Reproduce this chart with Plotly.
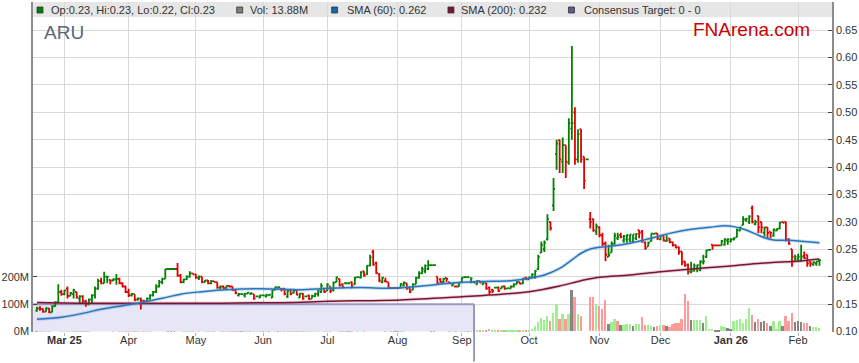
import pandas as pd
import plotly.graph_objects as go

# ---------------- data ----------------
START_DATE = "2025-02-18"

OPEN = [
    .138, .142, .141, .136, .142, .135, .146, .153, .172, .168,
    .178, .165, .168, .172, .160, .164, .155, .150, .158, .166,
    .178, .192, .188, .200, .194, .193, .195, .196, .188, .182,
    .172, .166, .168, .158, .160, .156, .155, .160, .166, .172,
    .182, .190, .196, .214, .214, .214, .214, .202, .190, .195,
    .200, .206, .204, .198, .200, .190, .193, .188, .192, .190,
    .180, .182, .179, .183, .182, .176, .166, .168, .166, .169,
    .168, .168, .164, .162, .166, .164, .166, .162, .176, .180,
    .178, .178, .164, .176, .171, .175, .162, .169, .164, .166,
    .160, .164, .168, .172, .178, .174, .182, .176, .190, .196,
    .186, .188, .188, .190, .186, .199, .198, .210, .204, .220,
    .245, .225, .205, .190, .192, .190, .179, .179, .179, .180,
    .184, .188, .180, .176, .186, .198, .206, .210, .214, .221,
    .221, .200, .195, .190, .198, .190, .184, .182, .182, .190,
    .199, .199, .190, .190, .186, .192, .186, .188, .180, .176,
    .180, .180, .178, .182, .178, .178, .182, .186, .190, .188,
    .198, .195, .198, .200, .214, .244, .250, .268, .300, .330,
    .424, .449, .410, .440, .408, .470, .500, .414, .469, .419,
    .414, .305, .305, .282, .290, .275, .260, .236, .244, .260,
    .270, .276, .266, .268, .268, .264, .270, .285, .282, .262,
    .255, .265, .278, .279, .268, .275, .265, .270, .263, .258,
    .254, .246, .228, .222, .208, .212, .214, .212, .226, .236,
    .249, .2585, .257, .257, .257, .258, .266, .264, .268, .272,
    .284, .294, .303, .300, .325, .296, .311, .300, .280, .290,
    .282, .275, .284, .288, .300, .300, .268, .250, .228, .232,
    .230, .238, .240, .228, .222, .224, .229,
]
HIGH = [
    .145, .146, .142, .144, .143, .148, .155, .186, .176, .176,
    .182, .172, .178, .172, .166, .166, .158, .160, .168, .182,
    .196, .198, .209, .200, .194, .197, .205, .198, .190, .184,
    .178, .170, .168, .162, .162, .158, .162, .168, .174, .186,
    .194, .198, .214, .214, .214, .214, .225, .205, .196, .202,
    .210, .206, .205, .202, .200, .194, .194, .194, .192, .190,
    .184, .184, .184, .184, .182, .176, .170, .168, .170, .172,
    .171, .168, .165, .167, .166, .168, .168, .176, .182, .182,
    .179, .179, .176, .178, .178, .175, .170, .170, .165, .167,
    .167, .170, .176, .188, .179, .188, .182, .191, .200, .196,
    .188, .188, .188, .191, .200, .200, .210, .210, .221, .240,
    .249, .227, .206, .200, .198, .190, .179, .179, .179, .188,
    .191, .188, .182, .188, .200, .210, .218, .222, .230, .221,
    .221, .200, .197, .198, .198, .190, .188, .183, .190, .199,
    .199, .199, .199, .190, .194, .192, .192, .189, .182, .178,
    .180, .182, .182, .184, .180, .184, .188, .192, .190, .198,
    .200, .200, .206, .212, .240, .264, .266, .314, .300, .380,
    .450, .450, .454, .440, .489, .621, .509, .469, .469, .419,
    .414, .318, .306, .297, .292, .280, .264, .258, .264, .280,
    .280, .280, .276, .277, .277, .277, .279, .285, .285, .264,
    .264, .279, .279, .279, .276, .275, .276, .270, .264, .258,
    .255, .246, .228, .224, .227, .224, .222, .230, .240, .249,
    .249, .2585, .257, .257, .267, .270, .270, .270, .272, .288,
    .291, .310, .307, .312, .330, .304, .311, .300, .291, .290,
    .282, .288, .288, .300, .300, .300, .270, .250, .240, .242,
    .258, .246, .240, .228, .228, .228, .230,
]
LOW = [
    .136, .138, .134, .136, .133, .135, .145, .153, .165, .166,
    .160, .165, .160, .160, .152, .150, .145, .148, .150, .160,
    .176, .186, .188, .188, .186, .192, .185, .186, .180, .170,
    .163, .164, .155, .156, .140, .152, .154, .158, .164, .170,
    .180, .186, .196, .214, .214, .214, .200, .188, .188, .194,
    .198, .204, .196, .194, .188, .190, .186, .186, .190, .178,
    .176, .178, .178, .180, .174, .168, .164, .168, .162, .169,
    .167, .158, .163, .161, .166, .162, .165, .161, .175, .178,
    .173, .166, .161, .166, .169, .166, .161, .158, .163, .158,
    .160, .163, .164, .170, .170, .174, .170, .173, .190, .182,
    .179, .188, .188, .179, .185, .199, .197, .200, .203, .219,
    .220, .205, .190, .188, .190, .179, .179, .179, .179, .179,
    .182, .176, .170, .175, .186, .196, .205, .206, .212, .221,
    .221, .186, .188, .188, .190, .188, .182, .182, .181, .188,
    .199, .199, .188, .188, .185, .188, .185, .176, .168, .170,
    .180, .172, .178, .176, .178, .178, .180, .186, .186, .186,
    .194, .195, .197, .196, .212, .243, .245, .266, .284, .320,
    .395, .389, .389, .380, .404, .450, .404, .408, .408, .360,
    .414, .288, .282, .276, .272, .256, .228, .236, .244, .258,
    .267, .270, .262, .262, .263, .263, .267, .270, .262, .249,
    .255, .264, .277, .267, .267, .264, .264, .261, .255, .252,
    .240, .221, .218, .204, .206, .209, .208, .210, .222, .234,
    .249, .249, .257, .257, .257, .257, .258, .263, .266, .272,
    .283, .294, .300, .296, .297, .294, .279, .279, .273, .270,
    .270, .273, .283, .286, .298, .264, .258, .218, .227, .228,
    .228, .232, .218, .218, .220, .220, .220,
]
CLOSE = [
    .142, .141, .136, .142, .135, .146, .153, .172, .168, .175,
    .165, .170, .175, .162, .164, .155, .150, .158, .166, .178,
    .192, .188, .200, .200, .193, .195, .196, .188, .182, .172,
    .166, .168, .158, .160, .156, .155, .160, .166, .172, .182,
    .190, .196, .214, .214, .214, .214, .202, .190, .195, .200,
    .206, .204, .198, .200, .190, .193, .188, .192, .190, .180,
    .182, .179, .183, .182, .176, .170, .168, .168, .169, .171,
    .170, .160, .164, .166, .166, .167, .167, .175, .181, .181,
    .177, .168, .174, .168, .175, .167, .169, .160, .164, .159,
    .165, .169, .175, .183, .172, .186, .174, .189, .199, .184,
    .181, .188, .188, .182, .198, .199, .208, .202, .220, .235,
    .222, .207, .193, .198, .191, .180, .179, .179, .179, .187,
    .189, .178, .172, .186, .198, .206, .214, .220, .221, .221,
    .221, .188, .190, .196, .196, .188, .187, .182, .188, .198,
    .199, .199, .197, .189, .192, .189, .190, .178, .172, .174,
    .180, .174, .182, .178, .179, .182, .186, .190, .187, .196,
    .195, .199, .204, .210, .236, .258, .262, .305, .288, .360,
    .443, .414, .440, .410, .480, .480, .414, .460, .414, .375,
    .414, .300, .285, .292, .276, .260, .240, .240, .260, .275,
    .272, .272, .274, .276, .277, .277, .278, .280, .265, .252,
    .262, .279, .279, .270, .275, .266, .266, .263, .257, .253,
    .245, .226, .220, .210, .210, .220, .221, .228, .228, .248,
    .249, .257, .257, .257, .265, .268, .268, .268, .270, .285,
    .290, .305, .306, .310, .300, .300, .290, .290, .290, .280,
    .280, .286, .287, .298, .298, .268, .260, .236, .236, .236,
    .236, .234, .224, .224, .226, .228, .230,
]
VOLUME_M = [
    5, 4, 6, 3, 5, 8, 12, 18, 6, 4,
    6, 5, 7, 4, 3, 5, 6, 4, 8, 12,
    15, 10, 20, 76, 8, 6, 10, 5, 7, 6,
    5, 4, 6, 3, 8, 4, 5, 6, 9, 12,
    10, 8, 14, 3, 2, 2, 15, 8, 5, 6,
    7, 4, 9, 5, 10, 4, 6, 5, 3, 8,
    5, 4, 6, 3, 5, 7, 4, 3, 5, 4,
    3, 6, 2, 4, 2, 5, 3, 8, 6, 4,
    5, 6, 4, 7, 5, 6, 4, 7, 3, 5,
    4, 6, 7, 10, 5, 6, 5, 9, 12, 6,
    5, 3, 3, 6, 8, 4, 10, 6, 12, 20,
    35, 30, 14, 9, 6, 8, 3, 2, 3, 6,
    7, 10, 9, 8, 10, 12, 9, 8, 10, 6,
    3, 40, 20, 8, 30, 6, 12, 3, 10, 6,
    3, 3, 6, 5, 3, 5, 4, 6, 8, 5,
    3, 6, 5, 4, 3, 6, 5, 4, 3, 6,
    5, 4, 8, 19, 34, 50, 42, 56, 38, 67,
    100, 45, 62, 45, 62, 153, 125, 62, 58, 0,
    0, 125, 127, 100, 93, 82, 115, 29, 36, 46,
    39, 23, 25, 28, 27, 20, 28, 28, 53, 22,
    23, 20, 18, 20, 22, 25, 20, 18, 28, 30,
    30, 47, 135, 110, 40, 40, 40, 43, 30, 58,
    10, 8, 6, 5, 20, 18, 12, 8, 38, 40,
    45, 30, 45, 86, 60, 35, 45, 35, 37, 32,
    20, 38, 10, 38, 20, 55, 38, 68, 35, 37,
    35, 30, 32, 20, 18, 18, 13.88,
]

# moving averages at sample bars (bar index, value)
SMA60_IDX = [0, 8, 15, 21, 28, 34, 41, 47, 54, 60, 67, 73, 80, 86, 96, 106, 116, 126,
             135, 145, 155, 161, 166, 171, 175, 178, 181, 184, 189, 194, 201, 207, 214,
             220, 225, 228, 232, 235, 238, 241, 246, 251, 256]
SMA60_VAL = [.1223, .126, .133, .1405, .147, .1526, .1605, .168, .1726, .1757, .1776, .178,
             .177, .176, .179, .180, .179, .183, .188, .191, .1927, .197, .203, .215, .2305,
             .2427, .2505, .2536, .2566, .261, .270, .279, .2865, .290, .293, .2913, .285,
             .278, .271, .267, .2664, .264, .262]
SMA200_IDX = [0, 20, 50, 80, 96, 119, 139, 152, 161, 171, 178, 184, 194, 204, 217, 227,
              237, 250, 256]
SMA200_VAL = [.153, .1515, .1515, .1526, .155, .1575, .1635, .168, .1726, .183, .1927, .199,
              .203, .209, .2153, .2195, .2244, .2287, .232]

MONTH_TICKS = ["2025-03-03", "2025-04-01", "2025-05-01", "2025-06-02", "2025-07-01",
               "2025-08-01", "2025-09-01", "2025-10-01", "2025-11-03", "2025-12-01",
               "2026-01-01", "2026-02-02"]
MONTH_LABELS = ["<b>Mar 25</b>", "Apr", "May", "Jun", "Jul", "Aug", "Sep", "Oct", "Nov",
                "Dec", "<b>Jan 26</b>", "Feb"]
PRICE_TICKS = [0.10, 0.15, 0.20, 0.25, 0.30, 0.35, 0.40, 0.45, 0.50, 0.55, 0.60, 0.65]
VOL_TICKS = [0, 100e6, 200e6]
VOL_LABELS = ["0M", "100M", "200M"]

CONSENSUS_END = "2025-09-05"
CONSENSUS_VOL_LEVEL = 99e6   # top of the shaded consensus block, on the volume scale

LEGEND_ITEMS = [
    ("Op:0.23, Hi:0.23, Lo:0.22, Cl:0.23", "#008000"),
    ("Vol: 13.88M", "#808080"),
    ("SMA (60): 0.262", "#1f62a8"),
    ("SMA (200): 0.232", "#7a1535"),
    ("Consensus Target: 0 - 0", "#5c5c8e"),
]

# ---------------- figure ----------------
dates = pd.bdate_range(START_DATE, periods=len(CLOSE))
vol = [v * 1e6 for v in VOLUME_M]

vcol = []
for i, c in enumerate(CLOSE):
    p = CLOSE[i - 1] if i > 0 else c
    if c > p:
        vcol.append("#9cf08e")
    elif c < p:
        vcol.append("#ff9a9a")
    else:
        vcol.append("#858585")

W, H = 859, 363
L, R, T, B = 31, 27, 2, 31
PW, PH = W - L - R, H - T - B


def px(x):
    return (x - L) / PW


def py(y):
    return (H - B - y) / PH


FONT = "Liberation Sans, Arial, sans-serif"
x_range = ["2025-02-14 17:18", "2026-02-17 02:10"]
p_lo, p_hi = 0.0990, 0.0990 + PH / 548.0

fig = go.Figure()

# consensus shaded block (drawn first so it lies under the bars)
fig.add_trace(go.Scatter(
    x=[x_range[0], CONSENSUS_END, CONSENSUS_END, x_range[0]],
    y=[0, 0, CONSENSUS_VOL_LEVEL, CONSENSUS_VOL_LEVEL],
    mode="lines", fill="toself", fillcolor="#e6e6f6",
    line=dict(width=0), yaxis="y", hoverinfo="skip",
))
fig.add_trace(go.Scatter(
    x=[x_range[0], CONSENSUS_END], y=[CONSENSUS_VOL_LEVEL, CONSENSUS_VOL_LEVEL],
    mode="lines", line=dict(color="#9a9ac2", width=2), yaxis="y", hoverinfo="skip",
))

fig.add_trace(go.Bar(
    x=dates, y=vol, marker=dict(color=vcol, line=dict(width=0)),
    width=0.62 * 86400000, yaxis="y", hoverinfo="skip",
))

sma60_x = [dates[i] for i in SMA60_IDX]
sma200_x = [dates[i] for i in SMA200_IDX]
fig.add_trace(go.Scatter(x=sma200_x, y=SMA200_VAL, mode="lines", yaxis="y2",
                         line=dict(color="rgba(170,80,115,0.25)", width=3.5, shape="spline"),
                         hoverinfo="skip"))
fig.add_trace(go.Scatter(x=sma200_x, y=SMA200_VAL, mode="lines", yaxis="y2",
                         line=dict(color="#7a1535", width=1.5, shape="spline")))
fig.add_trace(go.Scatter(x=sma60_x, y=SMA60_VAL, mode="lines", yaxis="y2",
                         line=dict(color="rgba(90,150,210,0.3)", width=3.5, shape="spline"),
                         hoverinfo="skip"))
fig.add_trace(go.Scatter(x=sma60_x, y=SMA60_VAL, mode="lines", yaxis="y2",
                         line=dict(color="#2a75bb", width=1.5, shape="spline")))

fig.add_trace(go.Ohlc(
    x=dates, open=OPEN, high=HIGH, low=LOW, close=CLOSE, yaxis="y2",
    increasing=dict(line=dict(color="#008000", width=1.8)),
    decreasing=dict(line=dict(color="#e00000", width=1.8)),
    tickwidth=0.5,
))

shapes = [
    dict(type="rect", xref="paper", yref="paper", x0=0, x1=1, y0=py(17), y1=1,
         fillcolor="#e6e6e6", line=dict(width=0), layer="below"),
    dict(type="line", xref="x", yref="paper", x0=CONSENSUS_END, x1=CONSENSUS_END,
         y0=py(304.5), y1=py(361.5), line=dict(color="#7c7ca6", width=1.5)),
]

annotations = []
leg_x = [(46.7, 38.0), (246.7, 238.2), (343.3, 333.4), (458.3, 450.0), (581.0, 570.8)]
for (txt, col), (tx, sx) in zip(LEGEND_ITEMS, leg_x):
    shapes.append(dict(type="rect", xref="paper", yref="paper",
                       x0=px(sx - 3), x1=px(sx + 3), y0=py(13), y1=py(7),
                       fillcolor=col, line=dict(color="#333333", width=0.8)))
    annotations.append(dict(text=txt, xref="paper", yref="paper", x=px(tx), y=py(10),
                            xanchor="left", yanchor="middle", showarrow=False,
                            font=dict(family=FONT, size=11, color="#333333")))

annotations.append(dict(text="ARU", xref="paper", yref="paper", x=px(40.5), y=py(32),
                        xanchor="left", yanchor="middle", showarrow=False,
                        font=dict(family=FONT, size=19, color="#5d6674")))
annotations.append(dict(text="FNArena.com", xref="paper", yref="paper", x=px(690.5), y=py(29.5),
                        xanchor="left", yanchor="middle", showarrow=False,
                        font=dict(family=FONT, size=19, color="#cc0000")))

fig.update_layout(
    width=W, height=H, margin=dict(l=L, r=R, t=T, b=B),
    paper_bgcolor="white", plot_bgcolor="white",
    showlegend=False, bargap=0,
    font=dict(family=FONT, size=11, color="#333333"),
    shapes=shapes, annotations=annotations,
    xaxis=dict(
        type="date", range=x_range,
        rangebreaks=[dict(bounds=["sat", "mon"])],
        rangeslider=dict(visible=False),
        tickvals=MONTH_TICKS, ticktext=MONTH_LABELS,
        showgrid=True, gridcolor="#d9d9d9", gridwidth=1,
        ticks="outside", ticklen=3, tickcolor="#b0b0b0",
        ticklabelstandoff=-5,
        tickfont=dict(size=11, color="#333333"),
        showline=False, zeroline=False,
    ),
    yaxis=dict(
        side="left", range=[(p_lo - 0.10) * 2e9, (p_hi - 0.10) * 2e9],
        tickvals=VOL_TICKS, ticktext=VOL_LABELS,
        showgrid=False, zeroline=False,
        ticks="inside", ticklen=4, tickcolor="#444444",
        showline=True, linecolor="#8c8c8c", linewidth=1.5,
        tickfont=dict(size=11, color="#333333"),
    ),
    yaxis2=dict(
        overlaying="y", side="right", range=[p_lo, p_hi],
        tickvals=PRICE_TICKS, tickformat=".2f",
        showgrid=True, gridcolor="#d9d9d9", gridwidth=1, zeroline=False,
        ticks="inside", ticklen=4, tickcolor="#444444",
        showline=True, linecolor="#8c8c8c", linewidth=1.5,
        tickfont=dict(size=11, color="#333333"),
    ),
)

fig.write_html("out.html", config={"displayModeBar": False},
               post_script="document.body.style.margin='0';")
